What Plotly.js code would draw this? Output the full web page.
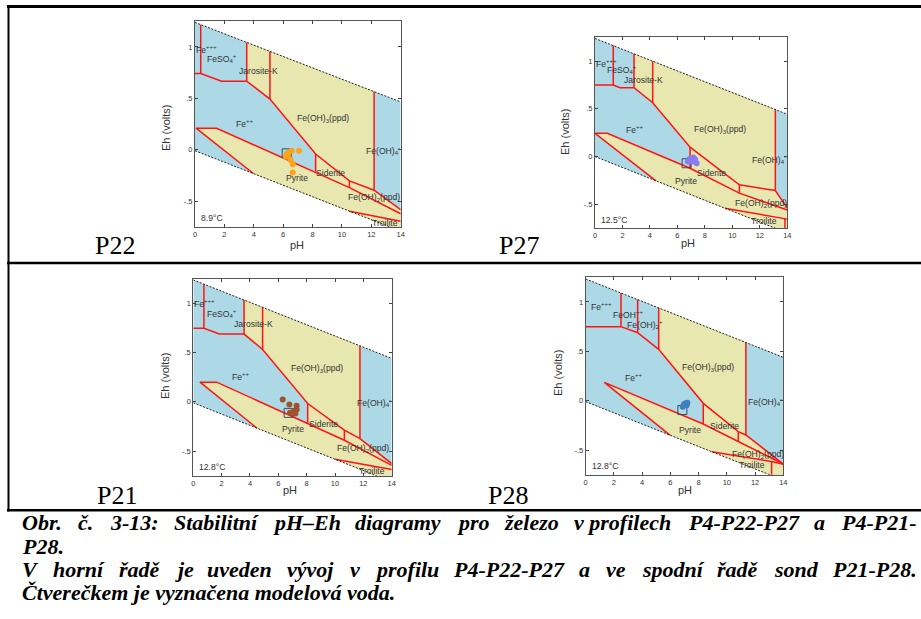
<!DOCTYPE html>
<html><head><meta charset="utf-8">
<script src="https://cdn.plot.ly/plotly-3.0.1.min.js"></script>
<style>html,body{margin:0;padding:0;background:#fff;} #chart{width:921px;height:619px;}</style>
</head><body><div id="chart"></div>
<script>
// ---------- shared tick data ----------
const PH_TICKS = [0,2,4,6,8,10,12,14];
const EH_TICKS = [-0.5,0,0.5,1];
const EH_TICKTEXT = ['-.5','0','.5','1'];

// ---------- P22 (8.9 °C) ----------
const P22_temp = '8.9°C';
const P22_upper = [[0,1.239],[14,0.465]];
const P22_lower = [[0,-0.01],[14,-0.794]];
const P22_fields = [
  [[3.52,1.044],[5.1,0.957],[5.1,0.493],[3.52,0.667]],
  [[5.1,0.957],[12.19,0.565],[12.19,-0.395],[10.51,-0.304],[8.21,-0.042],[5.1,0.493]],
  [[8.21,-0.042],[10.51,-0.304],[10.51,-0.369],[8.21,-0.216]],
  [[10.51,-0.304],[12.19,-0.395],[14,-0.585],[14,-0.624],[10.51,-0.369]],
  [[0.07,0.209],[1.47,0.209],[8.21,-0.216],[10.51,-0.369],[14,-0.624],[14,-0.696],[10.51,-0.599],[3.97,-0.232]],
  [[10.51,-0.599],[14,-0.696],[14,-0.794]]
];
const P22_bounds = [
  [[0.39,1.217],[0.39,0.742]],
  [[0,0.742],[0.39,0.742],[1.82,0.667],[3.52,0.667],[5.1,0.493],[8.21,-0.042],[10.51,-0.304],[12.19,-0.395],[14,-0.585]],
  [[3.52,1.044],[3.52,0.667]],
  [[5.1,0.957],[5.1,0.493]],
  [[12.19,0.565],[12.19,-0.395]],
  [[8.21,-0.042],[8.21,-0.216]],
  [[10.51,-0.304],[10.51,-0.369]],
  [[3.97,-0.232],[0.07,0.209],[1.47,0.209],[8.21,-0.216],[10.51,-0.369],[14,-0.624]],
  [[10.51,-0.599],[14,-0.696]]
];
const P22_pH = [6.24,6.35,6.58,7.08,6.51,6.65,6.65,6.19,6.29];
const P22_Eh = [-0.042,-0.029,-0.010,-0.010,-0.101,-0.141,-0.222,-0.069,-0.056];
const P22_model = [6.24,-0.036];
const P22_labels = [
  ['Fe<sup>+++</sup>',0.0,0.98,'left'],
  ['FeSO<sub>4</sub><sup>+</sup>',1.85,0.885,'center'],
  ['Jarosite-K',4.3,0.765,'center'],
  ['Fe<sup>++</sup>',3.4,0.252,'center'],
  ['Fe(OH)<sub>3</sub>(ppd)',8.74,0.30,'center'],
  ['Fe(OH)<sub>4</sub><sup>-</sup>',14,-0.01,'right'],
  ['Siderite',9.2,-0.232,'center'],
  ['Pyrite',6.92,-0.275,'center'],
  ['Fe(OH)<sub>2</sub>(ppd)',12.15,-0.465,'center'],
  ['Troilite',13.9,-0.716,'right']
];

// ---------- P27 (12.5 °C) ----------
const P27_temp = '12.5°C';
const P27_upper = [[0,1.237],[14,0.443]];
const P27_lower = [[0,0],[14,-0.8]];
const P27_fields = [
  [[2.84,1.076],[4.2,0.999],[4.2,0.564],[2.84,0.721]],
  [[4.2,0.999],[13.13,0.492],[13.13,-0.355],[10.51,-0.296],[6.92,0.098],[4.2,0.564]],
  [[6.92,0.098],[10.51,-0.296],[10.51,-0.383],[6.92,-0.122]],
  [[10.51,-0.296],[13.13,-0.355],[14,-0.54],[14,-0.56],[10.51,-0.383]],
  [[0,0.244],[0.9,0.244],[6.92,-0.122],[10.51,-0.383],[14,-0.56],[14,-0.655],[9.46,-0.541],[4.44,-0.254]],
  [[9.46,-0.541],[14,-0.655],[14,-0.8]]
];
const P27_bounds = [
  [[1.33,1.162],[1.33,0.749]],
  [[0,0.749],[1.33,0.749],[1.82,0.721],[2.84,0.721],[4.2,0.564],[6.92,0.098],[10.51,-0.296],[13.13,-0.355],[14,-0.54]],
  [[2.84,1.076],[2.84,0.721]],
  [[4.2,0.999],[4.2,0.564]],
  [[13.13,0.492],[13.13,-0.355]],
  [[6.92,0.098],[6.92,-0.122]],
  [[10.51,-0.296],[10.51,-0.383]],
  [[4.44,-0.254],[0,0.244],[0.9,0.244],[6.92,-0.122],[10.51,-0.383],[14,-0.56]],
  [[9.46,-0.541],[14,-0.655]],
  [[13.83,-0.652],[13.83,-0.79]]
];
const P27_pH = [6.75,6.87,7.01,7.16,7.28,7.40,7.11];
const P27_Eh = [-0.052,-0.028,-0.014,-0.010,-0.028,-0.070,-0.052];
const P27_model = [6.67,-0.07];
const P27_labels = [
  ['Fe<sup>+++</sup>',0.0,0.976,'left'],
  ['FeSO<sub>4</sub><sup>+</sup>',1.95,0.915,'center'],
  ['Jarosite-K',3.55,0.805,'center'],
  ['Fe<sup>++</sup>',2.9,0.28,'center'],
  ['Fe(OH)<sub>3</sub>(ppd)',9.1,0.285,'center'],
  ['Fe(OH)<sub>4</sub><sup>-</sup>',14,-0.035,'right'],
  ['Siderite',8.45,-0.175,'center'],
  ['Pyrite',6.65,-0.255,'center'],
  ['Fe(OH)<sub>2</sub>(ppd)',12.1,-0.49,'center'],
  ['Troilite',12.3,-0.672,'center']
];

// ---------- P21 (12.8 °C) ----------
const P21_temp = '12.8°C';
const P21_upper = [[0,1.237],[14,0.441]];
const P21_lower = [[0,-0.01],[14,-0.812]];
const P21_fields = [
  [[3.58,1.033],[4.89,0.959],[4.89,0.532],[3.58,0.688]],
  [[4.89,0.959],[11.76,0.568],[11.76,-0.373],[10.66,-0.288],[8.07,-0.017],[4.89,0.532]],
  [[8.07,-0.017],[10.66,-0.288],[10.66,-0.39],[8.07,-0.22]],
  [[10.66,-0.288],[11.76,-0.373],[14,-0.627],[14,-0.645],[10.66,-0.39]],
  [[0.47,0.2],[1.65,0.2],[8.07,-0.22],[10.66,-0.39],[14,-0.645],[14,-0.688],[10,-0.583],[4.5,-0.268]],
  [[10,-0.583],[14,-0.688],[14,-0.812]]
];
const P21_bounds = [
  [[0.75,1.194],[0.75,0.746]],
  [[0,0.746],[0.75,0.746],[1.84,0.688],[3.58,0.688],[4.89,0.532],[8.07,-0.017],[10.66,-0.288],[11.76,-0.373],[14,-0.627]],
  [[3.58,1.033],[3.58,0.688]],
  [[4.89,0.959],[4.89,0.532]],
  [[11.76,0.568],[11.76,-0.373]],
  [[8.07,-0.017],[8.07,-0.22]],
  [[10.66,-0.288],[10.66,-0.39]],
  [[4.5,-0.268],[0.47,0.2],[1.65,0.2],[8.07,-0.22],[10.66,-0.39],[14,-0.645]],
  [[10,-0.583],[14,-0.688]]
];
const P21_pH = [6.31,6.78,7.29,7.29,7.11,7.01,6.82,7.2];
const P21_Eh = [0.024,-0.027,-0.041,-0.078,-0.092,-0.119,-0.112,-0.119];
const P21_model = [6.73,-0.112];
const P21_labels = [
  ['Fe<sup>+++</sup>',0.0,1.0,'left'],
  ['FeSO<sub>4</sub><sup>+</sup>',2.0,0.9,'center'],
  ['Jarosite-K',4.25,0.79,'center'],
  ['Fe<sup>++</sup>',3.35,0.254,'center'],
  ['Fe(OH)<sub>3</sub>(ppd)',8.7,0.34,'center'],
  ['Fe(OH)<sub>4</sub><sup>-</sup>',14,-0.01,'right'],
  ['Siderite',9.2,-0.227,'center'],
  ['Pyrite',7.0,-0.28,'center'],
  ['Fe(OH)<sub>2</sub>(ppd)',12.0,-0.475,'center'],
  ['Troilite',12.6,-0.702,'center']
];

// ---------- P28 (12.8 °C) ----------
const P28_temp = '12.8°C';
const P28_upper = [[0,1.233],[14,0.439]];
const P28_lower = [[0,-0.01],[14,-0.805]];
const P28_fields = [
  [[5.17,0.94],[11.35,0.589],[11.35,-0.348],[10.81,-0.314],[8.33,-0.027],[5.17,0.52]],
  [[8.33,-0.027],[10.81,-0.314],[10.81,-0.416],[8.33,-0.236]],
  [[10.81,-0.314],[11.35,-0.348],[14,-0.642],[10.81,-0.416]],
  [[1.32,0.186],[8.33,-0.236],[10.81,-0.416],[14,-0.642],[13.17,-0.616],[8.92,-0.517],[5.97,-0.349]],
  [[8.92,-0.517],[13.17,-0.616],[13.17,-0.758]],
  [[13.17,-0.616],[14,-0.645],[14,-0.805],[13.17,-0.758]]
];
const P28_bounds = [
  [[0,0.75],[2.5,0.75],[3.68,0.689],[5.17,0.52],[8.33,-0.027],[10.81,-0.314],[11.35,-0.348],[14,-0.642]],
  [[2.5,1.091],[2.5,0.75]],
  [[3.68,1.024],[3.68,0.689]],
  [[5.17,0.94],[5.17,0.52]],
  [[11.35,0.589],[11.35,-0.348]],
  [[8.33,-0.027],[8.33,-0.236]],
  [[10.81,-0.314],[10.81,-0.416]],
  [[5.97,-0.349],[1.32,0.186],[8.33,-0.236],[10.81,-0.416],[14,-0.642]],
  [[8.92,-0.517],[13.17,-0.616],[14,-0.645]],
  [[13.17,-0.616],[13.17,-0.758]]
];
const P28_pH = [6.87,6.96,7.08,7.2,7.03,7.15];
const P28_Eh = [-0.061,-0.037,-0.027,-0.020,-0.047,-0.047];
const P28_model = [6.85,-0.095];
const P28_labels = [
  ['Fe<sup>+++</sup>',1.15,0.953,'center'],
  ['FeOH<sup>++</sup>',3.0,0.878,'center'],
  ['Fe(OH)<sub>2</sub><sup>+</sup>',4.2,0.767,'center'],
  ['Fe<sup>++</sup>',3.4,0.236,'center'],
  ['Fe(OH)<sub>3</sub>(ppd)',8.65,0.338,'center'],
  ['Fe(OH)<sub>4</sub><sup>-</sup>',14,-0.01,'right'],
  ['Siderite',9.8,-0.253,'center'],
  ['Pyrite',7.4,-0.297,'center'],
  ['Fe(OH)<sub>2</sub>(ppd)',12.2,-0.55,'center'],
  ['Troilite',11.8,-0.65,'center']
];

// ---------- caption ----------
const PANEL_NAMES = ['P22','P27','P21','P28'];
const CAPTION_LINES = [
  'Obr. č.  3-13: Stabilitní pH–Eh diagramy pro železo v\u00a0profilech P4-P22-P27 a P4-P21-',
  'P28.',
  'V horní řadě je uveden vývoj v profilu P4-P22-P27 a ve spodní řadě sond P21-P28.',
  'Čtverečkem je vyznačena modelová voda.'
];
const CAPTION_JUSTIFY = [true,false,true,false];

// ---------- layout geometry (pixels) ----------
const W = 921, H = 619;
const panels = [
  {temp:P22_temp, upper:P22_upper, lower:P22_lower, fields:P22_fields, bounds:P22_bounds, pH:P22_pH, Eh:P22_Eh, model:P22_model, labels:P22_labels, color:'#ffa31a',
   px:[195,400.7], py:[21.3,226.7], ehX:166, ehY:128, phX:297, phY:245, nameX:115, nameY:246},
  {temp:P27_temp, upper:P27_upper, lower:P27_lower, fields:P27_fields, bounds:P27_bounds, pH:P27_pH, Eh:P27_Eh, model:P27_model, labels:P27_labels, color:'#8a7cf0',
   px:[595,787.3], py:[37.2,228.2], ehX:565, ehY:132, phX:688, phY:243, nameX:519, nameY:246},
  {temp:P21_temp, upper:P21_upper, lower:P21_lower, fields:P21_fields, bounds:P21_bounds, pH:P21_pH, Eh:P21_Eh, model:P21_model, labels:P21_labels, color:'#a0522d',
   px:[193.3,391.7], py:[278.7,475.7], ehX:165, ehY:376, phX:290, phY:490, nameX:117, nameY:495},
  {temp:P28_temp, upper:P28_upper, lower:P28_lower, fields:P28_fields, bounds:P28_bounds, pH:P28_pH, Eh:P28_Eh, model:P28_model, labels:P28_labels, color:'#3f7fc0',
   px:[585.7,783.3], py:[277.3,474.7], ehX:558, ehY:373, phX:685, phY:490, nameX:508, nameY:495}
];

const BLUE = 'rgb(173,216,230)';
const YELLOW = 'rgb(233,231,176)';
const RED = 'rgb(255,20,20)';
const TXT = '#333';
const SANS = 'Liberation Sans, Arial, sans-serif';

const traces = [];
const annotations = [];
const layout = {
  width: W, height: H, margin:{l:0,r:0,t:0,b:0},
  paper_bgcolor:'#fff', plot_bgcolor:'#fff', showlegend:false, hovermode:false,
  annotations: annotations, shapes: []
};

const col = pts => [pts.map(p=>p[0]), pts.map(p=>p[1])];

panels.forEach((P, i) => {
  const k = i===0 ? '' : String(i+1);
  const xa = 'x'+k, ya = 'y'+k;
  layout['xaxis'+k] = {
    domain:[P.px[0]/W, P.px[1]/W], anchor: ya, range:[0,14],
    tickvals: PH_TICKS, ticks:'inside', ticklen:3, tickcolor:'#444',
    mirror:'allticks', showline:true, linecolor:'#555', linewidth:1,
    showgrid:false, zeroline:false, tickfont:{family:SANS, size:7.5, color:TXT}
  };
  layout['yaxis'+k] = {
    domain:[1-P.py[1]/H, 1-P.py[0]/H], anchor: xa, range:[-0.75,1.25],
    tickvals: EH_TICKS, ticktext: EH_TICKTEXT, ticks:'inside', ticklen:3, tickcolor:'#444',
    mirror:'allticks', showline:true, linecolor:'#555', linewidth:1,
    showgrid:false, zeroline:false, tickfont:{family:SANS, size:7.5, color:TXT}
  };
  const band = [P.upper[0], P.upper[1], P.lower[1], P.lower[0]];
  const [bx, by] = col(band);
  traces.push({type:'scatter', mode:'lines', x:bx, y:by, xaxis:xa, yaxis:ya, fill:'toself', fillcolor:BLUE, line:{width:0, color:BLUE}});
  P.fields.forEach(f => {
    const [fx, fy] = col(f);
    traces.push({type:'scatter', mode:'lines', x:fx, y:fy, xaxis:xa, yaxis:ya, fill:'toself', fillcolor:YELLOW, line:{width:0.5, color:YELLOW}});
  });
  P.bounds.forEach(b => {
    const [lx, ly] = col(b);
    traces.push({type:'scatter', mode:'lines', x:lx, y:ly, xaxis:xa, yaxis:ya, line:{color:RED, width:1.5}});
  });
  [P.upper, P.lower].forEach(w => {
    const [wx, wy] = col(w);
    traces.push({type:'scatter', mode:'lines', x:wx, y:wy, xaxis:xa, yaxis:ya, line:{color:'#222', width:1, dash:'2px,1.5px'}});
  });
  traces.push({type:'scatter', mode:'markers', x:[P.model[0]], y:[P.model[1]], xaxis:xa, yaxis:ya,
    marker:{symbol:'square-open', size:9, color:'#3a4a5a', line:{width:1, color:'#3a4a5a'}}});
  traces.push({type:'scatter', mode:'markers', x:P.pH, y:P.Eh, xaxis:xa, yaxis:ya,
    marker:{symbol:'circle', size:6, color:P.color}});
  P.labels.forEach(L => {
    annotations.push({xref:xa, yref:ya, x:L[1], y:L[2], text:L[0], xanchor:L[3], yanchor:'middle', showarrow:false,
      borderpad:0, font:{family:SANS, size:8.6, color:TXT}});
  });
  annotations.push({xref:xa, yref:ya, x:0.35, y:-0.665, text:P.temp, xanchor:'left', yanchor:'middle', showarrow:false,
    borderpad:0, font:{family:SANS, size:8.6, color:TXT}});
  annotations.push({xref:'paper', yref:'paper', x:P.ehX/W, y:1-P.ehY/H, text:'Eh (volts)', textangle:-90, showarrow:false,
    xanchor:'center', yanchor:'middle', font:{family:SANS, size:11, color:TXT}});
  annotations.push({xref:'paper', yref:'paper', x:P.phX/W, y:1-P.phY/H, text:'pH', showarrow:false,
    xanchor:'center', yanchor:'middle', font:{family:SANS, size:11, color:TXT}});
  annotations.push({xref:'paper', yref:'paper', x:P.nameX/W, y:1-P.nameY/H, text:PANEL_NAMES[i], showarrow:false,
    xanchor:'center', yanchor:'middle', font:{family:'Liberation Serif, serif', size:26, color:'#000'}});
});

const hline = (y, x0, x1, w) => ({type:'line', xref:'paper', yref:'paper', x0:x0/W, x1:x1/W, y0:1-y/H, y1:1-y/H, line:{color:'#000', width:w}});
layout.shapes.push(hline(6.5, 7, 921, 3));
layout.shapes.push(hline(263, 7, 921, 2.5));
layout.shapes.push(hline(510.3, 7, 921, 2.5));
layout.shapes.push({type:'line', xref:'paper', yref:'paper', x0:8.5/W, x1:8.5/W, y0:1-5/H, y1:1-511.5/H, line:{color:'#000', width:2}});

// caption: bold italic serif, justified where the original is
const CAP_FONT_SIZE = 22;
const CAP_FAMILY = 'Liberation Serif';
const CAP_LEFT = 22, CAP_RIGHT = 916;
const CAP_BASE = [530, 553.3, 576.7, 600];
const ctx = document.createElement('canvas').getContext('2d');
ctx.font = 'italic bold ' + CAP_FONT_SIZE + 'px "' + CAP_FAMILY + '", serif';
const capFont = {family: CAP_FAMILY + ', serif', size: CAP_FONT_SIZE, color:'#000'};
const bi = s => '<b><i>' + s + '</i></b>';
CAPTION_LINES.forEach((line, li) => {
  const yMid = CAP_BASE[li] - 0.33*CAP_FONT_SIZE;
  if (CAPTION_JUSTIFY[li]) {
    const words = line.split(/ +/);
    const widths = words.map(w => ctx.measureText(w).width);
    const total = widths.reduce((a,b)=>a+b,0);
    const gap = (CAP_RIGHT - CAP_LEFT - total) / (words.length - 1);
    let xpos = CAP_LEFT;
    words.forEach((w, wi) => {
      annotations.push({xref:'paper', yref:'paper', x:xpos/W, y:1-yMid/H, text:bi(w), xanchor:'left', yanchor:'middle',
        showarrow:false, borderpad:0, borderwidth:0, font:capFont});
      xpos += widths[wi] + gap;
    });
  } else {
    annotations.push({xref:'paper', yref:'paper', x:CAP_LEFT/W, y:1-yMid/H, text:bi(line), xanchor:'left', yanchor:'middle',
      showarrow:false, borderpad:0, borderwidth:0, font:capFont});
  }
});

Plotly.newPlot('chart', traces, layout, {staticPlot:true, displayModeBar:false});
</script>
</body></html>
